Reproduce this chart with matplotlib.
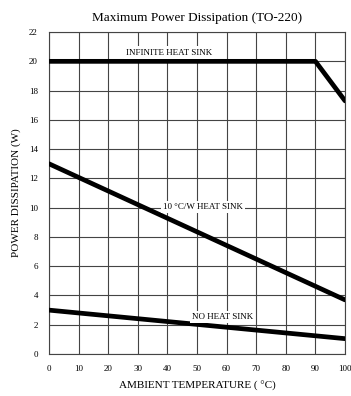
import matplotlib
matplotlib.use("Agg")
from matplotlib import pyplot as plt

plt.rcParams['font.family'] = ['Liberation Serif', 'DejaVu Serif']

# curves (ambient temp in C, power in W)
inf_temp = [0, 90, 100]
inf_power = [20, 20, 17.3]
hs10_temp = [0, 100]
hs10_power = [13, 3.7]
nohs_temp = [0, 100]
nohs_power = [3.0, 1.05]

x_ticks = list(range(0, 101, 10))
y_ticks = list(range(0, 23, 2))

fig = plt.figure(figsize=(3.51, 3.96), dpi=100)
ax = fig.add_axes([0.1396, 0.106, 0.8434, 0.813])

for t, p in [(inf_temp, inf_power), (hs10_temp, hs10_power), (nohs_temp, nohs_power)]:
    ax.plot(t, p, color="black", lw=3.4, solid_capstyle="round", zorder=3)

ax.set_xlim(0, 100)
ax.set_ylim(0, 22)
ax.set_xticks(x_ticks)
ax.set_yticks(y_ticks)
ax.tick_params(length=0, labelsize=6.5, pad=8)
ax.grid(True, color="#444444", lw=0.8)
for s in ax.spines.values():
    s.set_color("#444444")
    s.set_linewidth(0.8)

box = dict(facecolor="white", edgecolor="none", pad=1.5)
ax.text(40.5, 20.6, "INFINITE HEAT SINK", fontsize=6.5, ha="center", va="center", bbox=box, zorder=4)
ax.text(52, 10.05, "10 °C/W HEAT SINK", fontsize=6.5, ha="center", va="center", bbox=box, zorder=4)
ax.text(58.5, 2.55, "NO HEAT SINK", fontsize=6.5, ha="center", va="center", bbox=box, zorder=4)

ax.set_title("Maximum Power Dissipation (TO-220)", fontsize=9.5, pad=8)
ax.set_xlabel("AMBIENT TEMPERATURE ( °C)", fontsize=8, labelpad=6)
ax.set_ylabel("POWER DISSIPATION (W)", fontsize=8, labelpad=6)

fig.savefig("out.png", dpi=100)
